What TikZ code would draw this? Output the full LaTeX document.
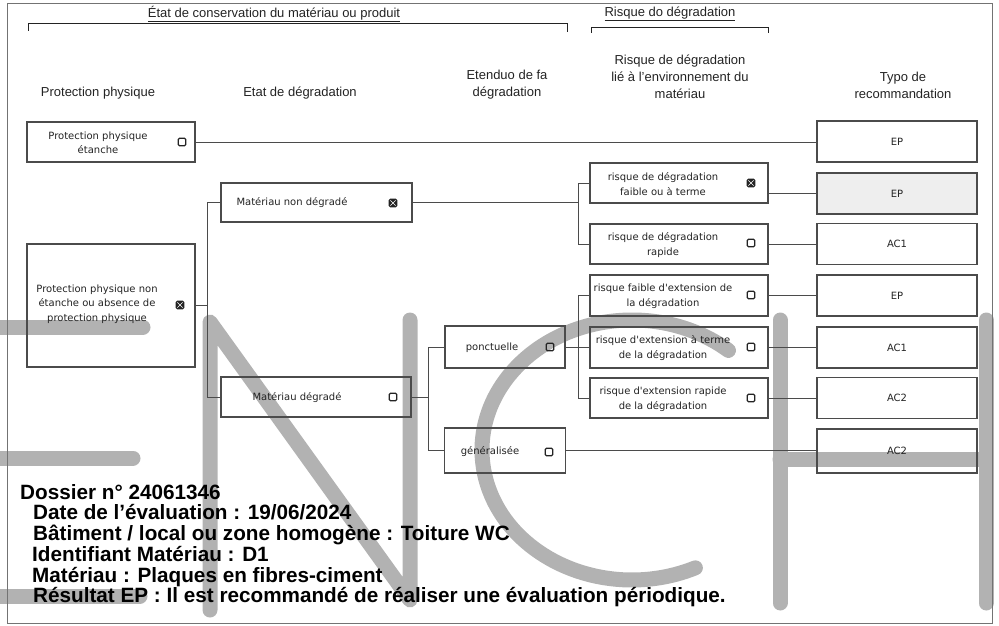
\documentclass[tikz,border=0pt]{standalone}
\usepackage{fontspec}
\setmainfont{Liberation Sans}
\newfontfamily\boxfont{DejaVu Sans}
\usepackage{tikz}
\usetikzlibrary{calc}
\definecolor{ink}{RGB}{35,35,35}
\definecolor{edge}{RGB}{75,75,75}
\definecolor{ghost}{RGB}{178,178,178}
\definecolor{lightbg}{RGB}{238,238,238}
\tikzset{
  pbox/.style={
    rectangle, draw=edge, line width=1.1pt, inner sep=0pt,
    minimum height=40pt
  },
  recobox/.style={pbox, minimum width=160pt, minimum height=41pt,
    font=\boxfont\fontsize{10}{14.5}\selectfont, text=ink},
  txt/.style={font=\boxfont\fontsize{10}{14.5}\selectfont, align=center,
    text=ink, inner sep=0pt},
  chk/.style={draw=ink, line width=1.3pt, rounded corners=1.2pt,
    minimum size=7.5pt, inner sep=0pt},
  chkx/.style={chk, fill=ink, path picture={
      \draw[white, line width=.6pt]
        (path picture bounding box.south west) -- (path picture bounding box.north east)
        (path picture bounding box.north west) -- (path picture bounding box.south east);}},
  hdr/.style={font=\fontsize{13}{17}\selectfont, align=center, text=ink, inner sep=0pt},
  info/.style={font=\bfseries\fontsize{20.7}{20.7}\selectfont, align=left,
    text=black, inner sep=0pt},
  link/.style={draw=edge, line width=0.9pt},
  wm/.style={draw=ghost, line width=15pt, line cap=round, line join=round},
}

\begin{document}
\begin{tikzpicture}[x=1pt, y=-1pt]
  \useasboundingbox (0,0) rectangle (999,626);

  % watermark letters
  \draw[wm] (-10,327) -- (143,327) (-10,458) -- (133,458) (-10,596) -- (140,596);
  \draw[wm] (210,610) -- (210,322) -- (410,600) -- (410,320);
  \draw[wm] (632,450) ++(-50:150 and 130)
    arc[start angle=-50, end angle=-295, x radius=150, y radius=130];
  \draw[wm] (780,320) -- (780,603) (986,320) -- (986,603) (780,459) -- (986,459);

  % frame and brackets
  \draw[draw=black!55, line width=0.9pt] (7,3) rectangle (992,623);
  \draw[draw=ink, line width=1pt] (28,31) -- (28,24) -- (567,24) -- (567,32);
  \draw[draw=ink, line width=1pt] (591,33) -- (591,28) -- (768,28) -- (768,33);

  % titles and column heads
  \node[hdr] (tcons) at (274,14) {\underline{État de conservation du matériau ou produit}};
  \node[hdr] (trisk) at (670,14) {\underline{Risque do dégradation}};
  \node[hdr] (hprot) at (98,93) {Protection physique};
  \node[hdr] (hetat) at (300,93) {Etat de dégradation};
  \node[hdr] (hext) at (507,85) {Etenduo de fa\\dégradation};
  \node[hdr] (hrisk) at (680,77) {Risque de dégradation\\lié à l'environnement du\\matériau};
  \node[hdr] (hreco) at (903,85) {Typo de\\recommandation};

  % protection physique
  \node[pbox, minimum width=168pt] (prot1) at (111,142) {};
  \node[txt] (prot1-t) at (98,143) {Protection physique\\étanche};
  \node[chk] (prot1-c) at (182,142) {};
  \node[pbox, minimum width=168pt, minimum height=123pt] (prot2) at (111,305.5) {};
  \node[txt] (prot2-t) at (97,304) {Protection physique non\\étanche ou absence de\\protection physique};
  \node[chkx] (prot2-c) at (180,305) {};

  % etat de degradation
  \node[pbox, minimum width=191pt, minimum height=39pt] (mat1) at (316.5,202.5) {};
  \node[txt] (mat1-t) at (292,203) {Matériau non dégradé};
  \node[chkx] (mat1-c) at (393,203) {};
  \node[pbox, minimum width=190pt] (mat2) at (316,397) {};
  \node[txt] (mat2-t) at (297,398) {Matériau dégradé};
  \node[chk] (mat2-c) at (393,397) {};

  % etendue
  \node[pbox, minimum width=120pt, minimum height=42pt] (ponct) at (505,347) {};
  \node[txt] (ponct-t) at (492,348) {ponctuelle};
  \node[chk] (ponct-c) at (550,347) {};
  \node[pbox, minimum width=121pt, minimum height=45pt] (gener) at (505,450.5) {};
  \node[txt] (gener-t) at (490,452) {généralisée};
  \node[chk] (gener-c) at (549,452) {};

  % risque
  \node[pbox, minimum width=178pt] (risk1) at (679,183) {};
  \node[txt] (risk1-t) at (663,184) {risque de dégradation\\faible ou à terme};
  \node[chkx] (risk1-c) at (751,183) {};
  \node[pbox, minimum width=178pt] (risk2) at (679,244) {};
  \node[txt] (risk2-t) at (663,245) {risque de dégradation\\rapide};
  \node[chk] (risk2-c) at (751,243) {};
  \node[pbox, minimum width=178pt, minimum height=41pt] (risk3) at (679,295.5) {};
  \node[txt] (risk3-t) at (663,296) {risque faible d'extension de\\la dégradation};
  \node[chk] (risk3-c) at (751,295) {};
  \node[pbox, minimum width=178pt, minimum height=41pt] (risk4) at (679,347.5) {};
  \node[txt] (risk4-t) at (663,348) {risque d'extension à terme\\de la dégradation};
  \node[chk] (risk4-c) at (751,347) {};
  \node[pbox, minimum width=178pt] (risk5) at (679,398) {};
  \node[txt] (risk5-t) at (663,399) {risque d'extension rapide\\de la dégradation};
  \node[chk] (risk5-c) at (751,398) {};

  % recommandation
  \node[recobox] (reco1) at (897,141.5) {EP};
  \node[recobox, fill=lightbg] (reco2) at (897,193.5) {EP};
  \node[recobox] (reco3) at (897,244) {AC1};
  \node[recobox] (reco4) at (897,295.5) {EP};
  \node[recobox] (reco5) at (897,347.5) {AC1};
  \node[recobox] (reco6) at (897,398) {AC2};
  \node[recobox, minimum height=44pt] (reco7) at (897,451) {AC2};

  % connectors
  \draw[link] (prot1.east) -- (prot1.east -| reco1.west);
  \draw[link] (prot2.east) -- ++(12,0) |- (mat1.west);
  \draw[link] (prot2.east) -- ++(12,0) |- (mat2.west);
  \draw[link] (mat1.east) -- ++(166,0) |- (risk1.west);
  \draw[link] (mat1.east) -- ++(166,0) |- (risk2.west);
  \draw[link] (reco2.west -| risk1.east) -- (reco2.west);
  \draw[link] (risk2.east) -- (reco3.west);
  \draw[link] (mat2.east) -- ++(17,0) |- (ponct.west);
  \draw[link] (mat2.east) -- ++(17,0) |- (gener.west);
  \draw[link] (ponct.east) -- ++(13,0) |- (risk3.west);
  \draw[link] (ponct.east) -- ++(13,0) |- (risk4.west);
  \draw[link] (ponct.east) -- ++(13,0) |- (risk5.west);
  \draw[link] (risk3.east) -- (reco4.west);
  \draw[link] (risk4.east) -- (reco5.west);
  \draw[link] (risk5.east) -- (reco6.west);
  \draw[link] (gener.east) -- (gener.east -| reco7.west);

  % dossier
  \node[info, anchor=north west] (dossier) at (20,484) {Dossier n° 24061346\\
    \hspace*{13pt}Date de l'évaluation : 19/06/2024\\
    \hspace*{13pt}Bâtiment / local ou zone homogène : Toiture WC\\
    \hspace*{12pt}Identifiant Matériau : D1\\
    \hspace*{12pt}Matériau : Plaques en fibres-ciment\\
    \hspace*{13pt}Résultat EP : Il est recommandé de réaliser une évaluation périodique.};
\end{tikzpicture}
\end{document}
